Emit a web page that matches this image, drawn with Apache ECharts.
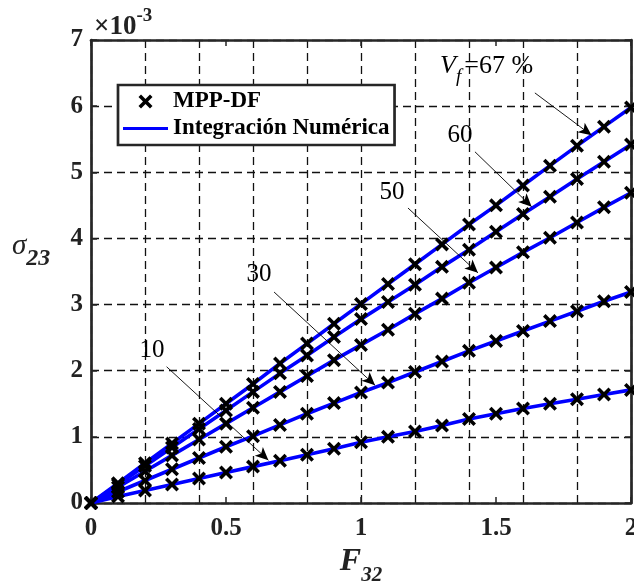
<!DOCTYPE html>
<html>
<head>
<meta charset="utf-8">
<script src="https://cdn.jsdelivr.net/npm/echarts@6/dist/echarts.min.js"></script>
<style>
html,body{margin:0;padding:0;background:#fff;}
#c{width:634px;height:583px;}
</style>
</head>
<body>
<div id="c"></div>
<script>
// ---- data (sigma_23 in units of 1e-3, as shown on the axis) ----
const F32 = [0,0.1,0.2,0.3,0.4,0.5,0.6,0.7,0.8,0.9,1.0,1.1,1.2,1.3,1.4,1.5,1.6,1.7,1.8,1.9,2.0];
const vf10 = [0,0.10,0.19,0.28,0.37,0.46,0.55,0.64,0.73,0.82,0.92,1.00,1.08,1.17,1.27,1.35,1.43,1.50,1.57,1.64,1.71];
const vf30 = [0,0.17,0.34,0.51,0.68,0.85,1.01,1.18,1.35,1.51,1.67,1.82,1.98,2.14,2.30,2.45,2.60,2.75,2.90,3.05,3.19];
const vf50 = [0,0.24,0.48,0.72,0.96,1.20,1.44,1.68,1.92,2.16,2.39,2.62,2.86,3.09,3.33,3.56,3.79,4.01,4.24,4.47,4.69];
const vf60 = [0,0.28,0.56,0.84,1.12,1.40,1.68,1.96,2.23,2.51,2.78,3.04,3.30,3.57,3.83,4.10,4.37,4.63,4.90,5.16,5.42];
const vf67 = [0,0.30,0.60,0.90,1.20,1.50,1.80,2.11,2.41,2.71,3.01,3.31,3.61,3.91,4.21,4.50,4.80,5.10,5.40,5.69,5.98];
const curves = [vf10, vf30, vf50, vf60, vf67];

const legendNames = ['MPP-DF', 'Integración Numérica'];

// annotation labels and arrows, in data coordinates
const annoLabels = ['10', '30', '50', '60'];
const annoLabelAt = [[0.226, 2.31], [0.622, 3.45], [1.115, 4.70], [1.367, 5.55]];
const vfLabelAt = [1.293, 6.61];
const arrowFrom = [[0.280, 2.06], [0.678, 3.19], [1.174, 4.46], [1.422, 5.31], [1.644, 6.20]];
const arrowTo   = [[0.657, 0.647], [1.052, 1.78], [1.433, 3.48], [1.632, 4.48], [1.854, 5.56]];

// ---- styling ----
const FONT = "'Liberation Serif','Times New Roman',serif";
const AXC = '#262626';
const XMARK = 'path://M0,1.8 L1.8,0 L5,3.2 L8.2,0 L10,1.8 L6.8,5 L10,8.2 L8.2,10 L5,6.8 L1.8,10 L0,8.2 L3.2,5 Z';
const LINEICON = 'path://M0,0 L45,0 L45,3.2 L0,3.2 Z';

const pairs = arr => arr.map((v, i) => [F32[i], v]);

const series = [];
curves.forEach(c => {
  series.push({
    type: 'line', name: legendNames[1], data: pairs(c),
    symbol: 'none', showSymbol: false,
    lineStyle: { color: '#0000ff', width: 3.6 },
    itemStyle: { color: '#0000ff' },
    z: 2, silent: true
  });
});
curves.forEach(c => {
  series.push({
    type: 'scatter', name: legendNames[0], data: pairs(c),
    symbol: XMARK, symbolSize: 14,
    itemStyle: { color: '#000', opacity: 1 },
    z: 3, silent: true
  });
});
series.push({
  type: 'line', name: 'arrows', data: [], silent: true, z: 4,
  markLine: {
    silent: true, animation: false,
    symbol: ['none', 'arrow'], symbolSize: [9, 13],
    lineStyle: { color: '#000', width: 0.9, type: 'solid' },
    label: { show: false },
    emphasis: { disabled: true },
    data: arrowFrom.map((p, i) => [{ coord: p }, { coord: arrowTo[i] }])
  }
});

const frameAxis = {
  axisLine: { show: true, onZero: false, lineStyle: { color: AXC, width: 2.7 } },
  axisTick: { show: true, inside: true, length: 6, lineStyle: { color: AXC, width: 1.5 } }
};
const gridLine = { show: true, lineStyle: { color: '#111', width: 1.3, type: [8, 5] } };

const option = {
  animation: false,
  backgroundColor: '#fff',
  grid: { left: 91, right: 3, top: 40, bottom: 80, containLabel: false, outerBoundsMode: 'none' },
  legend: {
    data: [
      { name: legendNames[0], icon: XMARK, itemStyle: { color: '#000' } },
      { name: legendNames[1], icon: LINEICON, itemStyle: { color: '#0000ff' } }
    ],
    orient: 'vertical', left: 118, top: 85,
    itemWidth: 45, itemHeight: 14, itemGap: 4,
    padding: [5, 5, 5, 5],
    borderColor: AXC, borderWidth: 2.7, backgroundColor: '#fff',
    selectedMode: false,
    textStyle: { fontFamily: FONT, fontWeight: 'bold', fontSize: 23, color: '#000' }
  },
  xAxis: [
    Object.assign({
      type: 'value', min: 0, max: 2, interval: 0.5, position: 'bottom',
      axisLabel: { margin: 13, fontFamily: FONT, fontWeight: 'bold', fontSize: 25, color: '#222' },
      splitLine: { show: false },
      name: '{F|F}{s|32}', nameLocation: 'middle', nameGap: 31,
      nameTextStyle: {
        rich: {
          F: { fontFamily: FONT, fontStyle: 'italic', fontWeight: 'bold', fontSize: 32, color: '#222' },
          s: { fontFamily: FONT, fontStyle: 'italic', fontWeight: 'bold', fontSize: 21, color: '#222', padding: [28, 0, 0, 0] }
        }
      }
    }, frameAxis),
    Object.assign({
      type: 'value', min: 0, max: 2, interval: 0.5, position: 'top',
      axisLabel: { show: false }, splitLine: { show: false }
    }, frameAxis),
    {
      type: 'value', min: 0, max: 2, interval: 0.2, position: 'bottom',
      axisLine: { show: false }, axisTick: { show: false }, axisLabel: { show: false },
      splitLine: gridLine
    }
  ],
  yAxis: [
    Object.assign({
      type: 'value', min: 0, max: 7, interval: 1, position: 'left',
      axisLabel: { margin: 8, fontFamily: FONT, fontWeight: 'bold', fontSize: 25, color: '#222' },
      splitLine: gridLine
    }, frameAxis),
    Object.assign({
      type: 'value', min: 0, max: 7, interval: 1, position: 'right',
      axisLabel: { show: false }, splitLine: { show: false }
    }, frameAxis)
  ],
  series: series
};

const chart = echarts.init(document.getElementById('c'), null, { renderer: 'canvas' });
chart.setOption(option);

const toPx = p => chart.convertToPixel({ xAxisIndex: 0, yAxisIndex: 0 }, p);
const graphics = annoLabels.map((t, i) => {
  const p = toPx(annoLabelAt[i]);
  return {
    type: 'text', x: p[0], y: p[1], silent: true, z: 10,
    style: { text: t, font: "25px " + FONT, fill: '#000', align: 'center', verticalAlign: 'middle' }
  };
});
const vp = toPx(vfLabelAt);
graphics.push({
  type: 'text', x: vp[0], y: vp[1], silent: true, z: 10,
  style: {
    text: '{v|V}{f|f}{n|=67 %}', align: 'left', verticalAlign: 'middle',
    rich: {
      v: { fontFamily: FONT, fontStyle: 'italic', fontSize: 26, fill: '#000' },
      f: { fontFamily: FONT, fontStyle: 'italic', fontSize: 19, fill: '#000', padding: [22, 0, 0, 0] },
      n: { fontFamily: FONT, fontSize: 26, fill: '#000', padding: [0, 0, 0, 3] }
    }
  }
});
// y-axis title
graphics.push({
  type: 'text', x: 12, y: 246, silent: true, z: 10,
  style: {
    text: '{s|σ}{n|23}', align: 'left', verticalAlign: 'middle',
    rich: {
      s: { fontFamily: FONT, fontStyle: 'italic', fontSize: 29, fill: '#222' },
      n: { fontFamily: FONT, fontStyle: 'italic', fontWeight: 'bold', fontSize: 24, fill: '#222', padding: [25, 0, 0, 0] }
    }
  }
});
// exponent
graphics.push({
  type: 'text', x: 94, y: 27, silent: true, z: 10,
  style: {
    text: '{m|×10}{e|-3}', align: 'left', verticalAlign: 'middle',
    rich: {
      m: { fontFamily: FONT, fontWeight: 'bold', fontSize: 27, fill: '#222' },
      e: { fontFamily: FONT, fontWeight: 'bold', fontSize: 19, fill: '#222', padding: [0, 0, 22, 0] }
    }
  }
});
chart.setOption({ graphic: graphics });
</script>
</body>
</html>
